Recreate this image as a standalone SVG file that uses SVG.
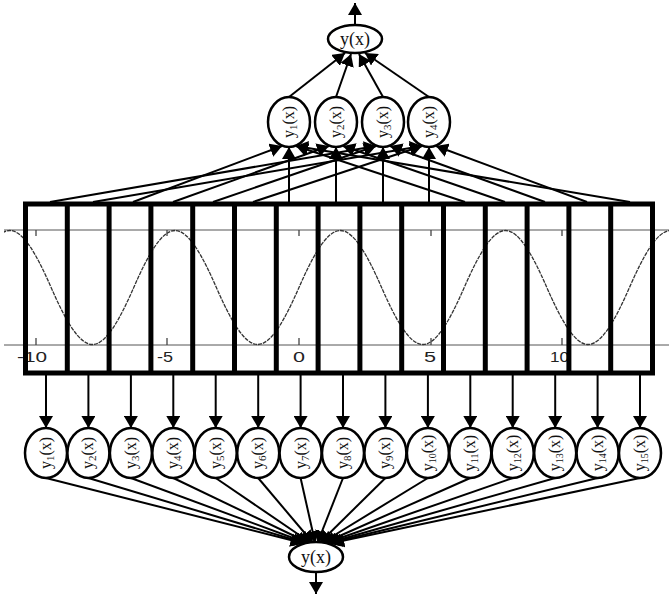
<svg xmlns="http://www.w3.org/2000/svg" width="669" height="596" viewBox="0 0 669 596">
<style>
.ax{stroke:#555;stroke-width:1;fill:none}
.crv{stroke:#333;stroke-width:1.3;fill:none;stroke-dasharray:4 1}
.tick{stroke:#444;stroke-width:1.3}
.num{font-family:"Liberation Sans",Arial,sans-serif;font-size:15px;fill:#222}
.box{fill:none;stroke:#000;stroke-width:5}
.dv{stroke:#000;stroke-width:5}
.cn{stroke:#000;stroke-width:2;fill:none;marker-end:url(#ah)}
.nd{fill:#fff;stroke:#000;stroke-width:2.5}
.lb{font-family:"Liberation Serif","Times New Roman",serif;font-size:16px;fill:#111}
.lbt{font-family:"Liberation Serif","Times New Roman",serif;font-size:18px;fill:#111}
</style>
<defs>
<marker id="ah" viewBox="0 0 12 14" refX="12" refY="7" markerWidth="12" markerHeight="14" markerUnits="userSpaceOnUse" orient="auto"><path d="M0,0 L12,7 L0,14 z" fill="#000"/></marker>
<clipPath id="cl"><rect x="4" y="0" width="665" height="596"/></clipPath>
</defs>
<rect width="669" height="596" fill="#fff"/>
<g id="plot" clip-path="url(#cl)">
<line class="ax" x1="4" y1="230" x2="669" y2="230"/>
<line class="ax" x1="4" y1="345" x2="669" y2="345"/>
<path class="crv" d="M-31.5,287.5 C-17.73,256.02 -3.96,230.5 9.81,230.5 C23.58,230.5 37.35,256.02 51.12,287.5 C64.89,318.98 78.66,344.5 92.43,344.5 C106.2,344.5 119.97,318.98 133.74,287.5 C147.51,256.02 161.28,230.5 175.05,230.5 C188.82,230.5 202.59,256.02 216.36,287.5 C230.13,318.98 243.9,344.5 257.67,344.5 C271.44,344.5 285.21,318.98 298.98,287.5 C312.75,256.02 326.52,230.5 340.29,230.5 C354.06,230.5 367.83,256.02 381.6,287.5 C395.37,318.98 409.14,344.5 422.91,344.5 C436.68,344.5 450.45,318.98 464.22,287.5 C477.99,256.02 491.76,230.5 505.53,230.5 C519.3,230.5 533.07,256.02 546.84,287.5 C560.61,318.98 574.38,344.5 588.15,344.5 C601.92,344.5 615.69,318.98 629.46,287.5 C643.23,256.02 657,230.5 670.77,230.5"/>
<g class="tick">
<line x1="36" y1="230" x2="36" y2="236"/><line x1="167" y1="230" x2="167" y2="236"/><line x1="299" y1="230" x2="299" y2="236"/><line x1="431" y1="230" x2="431" y2="236"/><line x1="562" y1="230" x2="562" y2="236"/>
<line x1="36" y1="338" x2="36" y2="345"/><line x1="167" y1="338" x2="167" y2="345"/><line x1="299" y1="338" x2="299" y2="345"/><line x1="431" y1="338" x2="431" y2="345"/><line x1="562" y1="338" x2="562" y2="345"/>
</g>
<text class="num" x="17" y="362" textLength="30" lengthAdjust="spacingAndGlyphs">-10</text>
<text class="num" x="157" y="362" textLength="16" lengthAdjust="spacingAndGlyphs">-5</text>
<text class="num" x="293" y="362" textLength="12" lengthAdjust="spacingAndGlyphs">0</text>
<text class="num" x="424" y="362" textLength="12" lengthAdjust="spacingAndGlyphs">5</text>
<text class="num" x="550" y="362" textLength="19" lengthAdjust="spacingAndGlyphs">10</text>
</g>
<g id="cells">
<rect class="box" x="25.5" y="204" width="627" height="169"/>
<line class="dv" x1="67.3" y1="204" x2="67.3" y2="373"/>
<line class="dv" x1="109.1" y1="204" x2="109.1" y2="373"/>
<line class="dv" x1="150.9" y1="204" x2="150.9" y2="373"/>
<line class="dv" x1="192.7" y1="204" x2="192.7" y2="373"/>
<line class="dv" x1="234.5" y1="204" x2="234.5" y2="373"/>
<line class="dv" x1="276.3" y1="204" x2="276.3" y2="373"/>
<line class="dv" x1="318.1" y1="204" x2="318.1" y2="373"/>
<line class="dv" x1="359.9" y1="204" x2="359.9" y2="373"/>
<line class="dv" x1="401.7" y1="204" x2="401.7" y2="373"/>
<line class="dv" x1="443.5" y1="204" x2="443.5" y2="373"/>
<line class="dv" x1="485.3" y1="204" x2="485.3" y2="373"/>
<line class="dv" x1="527.1" y1="204" x2="527.1" y2="373"/>
<line class="dv" x1="568.9" y1="204" x2="568.9" y2="373"/>
<line class="dv" x1="610.7" y1="204" x2="610.7" y2="373"/>
</g>
<g id="connectors">
<line class="cn" x1="355" y1="25" x2="355" y2="3"/>
<line class="cn" x1="289" y1="97" x2="345" y2="53"/>
<line class="cn" x1="336" y1="97" x2="351" y2="54"/>
<line class="cn" x1="383" y1="97" x2="359" y2="54"/>
<line class="cn" x1="429" y1="97" x2="365" y2="53"/>
<line class="cn" x1="50" y1="202" x2="376" y2="146"/>
<line class="cn" x1="93" y1="202" x2="422" y2="146"/>
<line class="cn" x1="133" y1="202" x2="282" y2="146"/>
<line class="cn" x1="173" y1="202" x2="329" y2="146"/>
<line class="cn" x1="213" y1="202" x2="376" y2="146"/>
<line class="cn" x1="253" y1="202" x2="422" y2="146"/>
<line class="cn" x1="289" y1="202" x2="289" y2="147"/>
<line class="cn" x1="336" y1="202" x2="336" y2="147"/>
<line class="cn" x1="383" y1="202" x2="383" y2="147"/>
<line class="cn" x1="429" y1="202" x2="429" y2="147"/>
<line class="cn" x1="465" y1="202" x2="296" y2="146"/>
<line class="cn" x1="505" y1="202" x2="343" y2="146"/>
<line class="cn" x1="545" y1="202" x2="390" y2="146"/>
<line class="cn" x1="587" y1="202" x2="436" y2="146"/>
<line class="cn" x1="630" y1="202" x2="296" y2="146"/>
<line class="cn" x1="46" y1="375" x2="46" y2="428"/>
<line class="cn" x1="88.4" y1="375" x2="88.4" y2="428"/>
<line class="cn" x1="130.9" y1="375" x2="130.9" y2="428"/>
<line class="cn" x1="173.3" y1="375" x2="173.3" y2="428"/>
<line class="cn" x1="215.7" y1="375" x2="215.7" y2="428"/>
<line class="cn" x1="258.2" y1="375" x2="258.2" y2="428"/>
<line class="cn" x1="300.6" y1="375" x2="300.6" y2="428"/>
<line class="cn" x1="343" y1="375" x2="343" y2="428"/>
<line class="cn" x1="385.4" y1="375" x2="385.4" y2="428"/>
<line class="cn" x1="427.9" y1="375" x2="427.9" y2="428"/>
<line class="cn" x1="470.3" y1="375" x2="470.3" y2="428"/>
<line class="cn" x1="512.7" y1="375" x2="512.7" y2="428"/>
<line class="cn" x1="555.2" y1="375" x2="555.2" y2="428"/>
<line class="cn" x1="597.6" y1="375" x2="597.6" y2="428"/>
<line class="cn" x1="640" y1="375" x2="640" y2="428"/>
<line class="cn" x1="46" y1="478" x2="302.5" y2="543"/>
<line class="cn" x1="88.4" y1="478" x2="304.6" y2="543"/>
<line class="cn" x1="130.9" y1="478" x2="306.7" y2="543"/>
<line class="cn" x1="173.3" y1="478" x2="308.9" y2="543"/>
<line class="cn" x1="215.7" y1="478" x2="311" y2="543"/>
<line class="cn" x1="258.2" y1="478" x2="313.1" y2="543"/>
<line class="cn" x1="300.6" y1="478" x2="315.2" y2="543"/>
<line class="cn" x1="343" y1="478" x2="317.4" y2="543"/>
<line class="cn" x1="385.4" y1="478" x2="319.5" y2="543"/>
<line class="cn" x1="427.9" y1="478" x2="321.6" y2="543"/>
<line class="cn" x1="470.3" y1="478" x2="323.7" y2="543"/>
<line class="cn" x1="512.7" y1="478" x2="325.8" y2="543"/>
<line class="cn" x1="555.2" y1="478" x2="328" y2="543"/>
<line class="cn" x1="597.6" y1="478" x2="330.1" y2="543"/>
<line class="cn" x1="640" y1="478" x2="332.2" y2="543"/>
<line class="cn" x1="316" y1="572" x2="316" y2="594"/>
</g>
<g id="top-y"><ellipse class="nd" cx="355" cy="39" rx="27" ry="14"/><text class="lbt" x="355" y="45" text-anchor="middle">y(x)</text></g>
<g id="top-y1"><ellipse class="nd" cx="289" cy="122" rx="21" ry="25"/><text class="lb" transform="translate(294,122) rotate(-90)" text-anchor="middle">y<tspan font-size="11" dy="3">1</tspan><tspan dy="-3">(x)</tspan></text></g>
<g id="top-y2"><ellipse class="nd" cx="336" cy="122" rx="21" ry="25"/><text class="lb" transform="translate(341,122) rotate(-90)" text-anchor="middle">y<tspan font-size="11" dy="3">2</tspan><tspan dy="-3">(x)</tspan></text></g>
<g id="top-y3"><ellipse class="nd" cx="383" cy="122" rx="21" ry="25"/><text class="lb" transform="translate(388,122) rotate(-90)" text-anchor="middle">y<tspan font-size="11" dy="3">3</tspan><tspan dy="-3">(x)</tspan></text></g>
<g id="top-y4"><ellipse class="nd" cx="429" cy="122" rx="21" ry="25"/><text class="lb" transform="translate(434,122) rotate(-90)" text-anchor="middle">y<tspan font-size="11" dy="3">4</tspan><tspan dy="-3">(x)</tspan></text></g>
<g id="bot-y1"><ellipse class="nd" cx="46" cy="453" rx="21" ry="25"/><text class="lb" transform="translate(51,453) rotate(-90)" text-anchor="middle">y<tspan font-size="11" dy="3">1</tspan><tspan dy="-3">(x)</tspan></text></g>
<g id="bot-y2"><ellipse class="nd" cx="88.4" cy="453" rx="21" ry="25"/><text class="lb" transform="translate(93.4,453) rotate(-90)" text-anchor="middle">y<tspan font-size="11" dy="3">2</tspan><tspan dy="-3">(x)</tspan></text></g>
<g id="bot-y3"><ellipse class="nd" cx="130.9" cy="453" rx="21" ry="25"/><text class="lb" transform="translate(135.9,453) rotate(-90)" text-anchor="middle">y<tspan font-size="11" dy="3">3</tspan><tspan dy="-3">(x)</tspan></text></g>
<g id="bot-y4"><ellipse class="nd" cx="173.3" cy="453" rx="21" ry="25"/><text class="lb" transform="translate(178.3,453) rotate(-90)" text-anchor="middle">y<tspan font-size="11" dy="3">4</tspan><tspan dy="-3">(x)</tspan></text></g>
<g id="bot-y5"><ellipse class="nd" cx="215.7" cy="453" rx="21" ry="25"/><text class="lb" transform="translate(220.7,453) rotate(-90)" text-anchor="middle">y<tspan font-size="11" dy="3">5</tspan><tspan dy="-3">(x)</tspan></text></g>
<g id="bot-y6"><ellipse class="nd" cx="258.2" cy="453" rx="21" ry="25"/><text class="lb" transform="translate(263.2,453) rotate(-90)" text-anchor="middle">y<tspan font-size="11" dy="3">6</tspan><tspan dy="-3">(x)</tspan></text></g>
<g id="bot-y7"><ellipse class="nd" cx="300.6" cy="453" rx="21" ry="25"/><text class="lb" transform="translate(305.6,453) rotate(-90)" text-anchor="middle">y<tspan font-size="11" dy="3">7</tspan><tspan dy="-3">(x)</tspan></text></g>
<g id="bot-y8"><ellipse class="nd" cx="343" cy="453" rx="21" ry="25"/><text class="lb" transform="translate(348,453) rotate(-90)" text-anchor="middle">y<tspan font-size="11" dy="3">8</tspan><tspan dy="-3">(x)</tspan></text></g>
<g id="bot-y9"><ellipse class="nd" cx="385.4" cy="453" rx="21" ry="25"/><text class="lb" transform="translate(390.4,453) rotate(-90)" text-anchor="middle">y<tspan font-size="11" dy="3">9</tspan><tspan dy="-3">(x)</tspan></text></g>
<g id="bot-y10"><ellipse class="nd" cx="427.9" cy="453" rx="21" ry="25"/><text class="lb" transform="translate(432.9,453) rotate(-90)" text-anchor="middle">y<tspan font-size="10" dy="3">10</tspan><tspan dy="-3">(x)</tspan></text></g>
<g id="bot-y11"><ellipse class="nd" cx="470.3" cy="453" rx="21" ry="25"/><text class="lb" transform="translate(475.3,453) rotate(-90)" text-anchor="middle">y<tspan font-size="10" dy="3">11</tspan><tspan dy="-3">(x)</tspan></text></g>
<g id="bot-y12"><ellipse class="nd" cx="512.7" cy="453" rx="21" ry="25"/><text class="lb" transform="translate(517.7,453) rotate(-90)" text-anchor="middle">y<tspan font-size="10" dy="3">12</tspan><tspan dy="-3">(x)</tspan></text></g>
<g id="bot-y13"><ellipse class="nd" cx="555.2" cy="453" rx="21" ry="25"/><text class="lb" transform="translate(560.2,453) rotate(-90)" text-anchor="middle">y<tspan font-size="10" dy="3">13</tspan><tspan dy="-3">(x)</tspan></text></g>
<g id="bot-y14"><ellipse class="nd" cx="597.6" cy="453" rx="21" ry="25"/><text class="lb" transform="translate(602.6,453) rotate(-90)" text-anchor="middle">y<tspan font-size="10" dy="3">14</tspan><tspan dy="-3">(x)</tspan></text></g>
<g id="bot-y15"><ellipse class="nd" cx="640" cy="453" rx="21" ry="25"/><text class="lb" transform="translate(645,453) rotate(-90)" text-anchor="middle">y<tspan font-size="10" dy="3">15</tspan><tspan dy="-3">(x)</tspan></text></g>
<g id="bot-y"><ellipse class="nd" cx="316" cy="557" rx="27" ry="15"/><text class="lbt" x="316" y="563" text-anchor="middle">y(x)</text></g>
</svg>
